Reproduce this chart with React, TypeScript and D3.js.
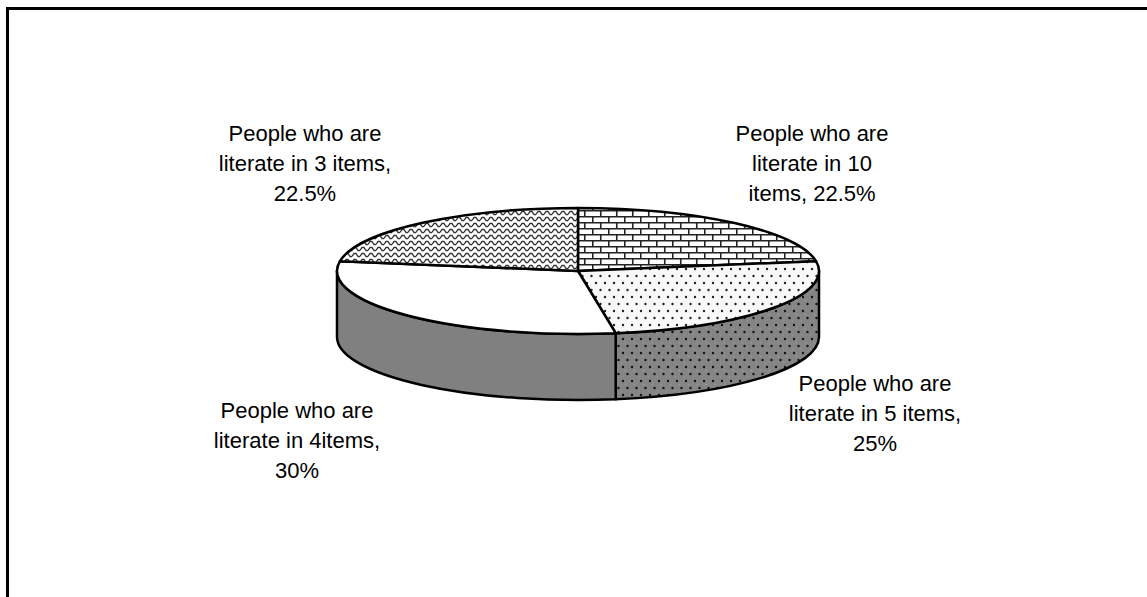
import React from "react";
import * as d3 from "d3";

const categories = [
  "People who are literate in 10 items",
  "People who are literate in 5 items",
  "People who are literate in 4items",
  "People who are literate in 3 items",
];
const values = [22.5, 25, 30, 22.5];
const labelLines = [
  ["People who are", "literate in 10", "items, 22.5%"],
  ["People who are", "literate in 5 items,", "25%"],
  ["People who are", "literate in 4items,", "30%"],
  ["People who are", "literate in 3 items,", "22.5%"],
];
const labelPos = [
  [812, 141],
  [875, 391],
  [297, 418],
  [305, 141],
];
const topFills = ["url(#bricks)", "url(#dotsTop)", "#ffffff", "url(#wave)"];
const sideFills = ["url(#bricksSide)", "url(#dotsSide)", "#808080", "url(#waveSide)"];

const W = 1147;
const H = 597;
const cx = 578;
const cy = 271;
const rx = 241;
const ry = 63;
const depth = 66;

function pt(a: number, dy = 0): [number, number] {
  return [cx + rx * Math.sin(a), cy - ry * Math.cos(a) + dy];
}

export default function App() {
  const pie = d3.pie<number>().sort(null).value((d) => d);
  const arcs = pie(values);

  const topPath = (a0: number, a1: number) => {
    const [x0, y0] = pt(a0);
    const [x1, y1] = pt(a1);
    const large = a1 - a0 > Math.PI ? 1 : 0;
    return `M${cx},${cy}L${x0},${y0}A${rx},${ry} 0 ${large} 1 ${x1},${y1}Z`;
  };
  const sidePath = (a0: number, a1: number) => {
    const s = Math.max(a0, Math.PI / 2);
    const e = Math.min(a1, (3 * Math.PI) / 2);
    if (e <= s) return null;
    const [x0, y0] = pt(s);
    const [x1, y1] = pt(e);
    const [x2, y2] = pt(e, depth);
    const [x3, y3] = pt(s, depth);
    return `M${x0},${y0}A${rx},${ry} 0 0 1 ${x1},${y1}L${x2},${y2}A${rx},${ry} 0 0 0 ${x3},${y3}Z`;
  };

  return (
    <svg
      width={W}
      height={H}
      style={{ position: "absolute", left: 0, top: 0, display: "block" }}
      fontFamily="'Liberation Sans', Arial, sans-serif"
    >
      <defs>
        <pattern id="bricks" width={16} height={12} patternUnits="userSpaceOnUse">
          <rect width={16} height={12} fill="#fff" />
          <path d="M0,0.75H16M0,6.75H16M0.75,0V6.75M8.75,6.75V12" stroke="#222" strokeWidth={1.6} fill="none" />
        </pattern>
        <pattern id="bricksSide" width={16} height={12} patternUnits="userSpaceOnUse">
          <rect width={16} height={12} fill="#808080" />
          <path d="M0,0.75H16M0,6.75H16M0.75,0V6.75M8.75,6.75V12" stroke="#222" strokeWidth={1.6} fill="none" />
        </pattern>
        <pattern id="wave" width={8} height={6} patternUnits="userSpaceOnUse">
          <rect width={8} height={6} fill="#fff" />
          <path d="M0,4.5L2,1.5L4,1.5L6,4.5L8,4.5" stroke="#333" strokeWidth={1.3} fill="none" />
        </pattern>
        <pattern id="waveSide" width={8} height={6} patternUnits="userSpaceOnUse">
          <rect width={8} height={6} fill="#808080" />
          <path d="M0,4.5L2,1.5L4,1.5L6,4.5L8,4.5" stroke="#222" strokeWidth={1.3} fill="none" />
        </pattern>
        <pattern id="dotsTop" width={9} height={14} patternUnits="userSpaceOnUse">
          <rect width={9} height={14} fill="#f8f8f8" />
          <circle cx={2} cy={3} r={1.2} fill="#222" />
          <circle cx={6.5} cy={10} r={1.2} fill="#222" />
        </pattern>
        <pattern id="dotsSide" width={9} height={14} patternUnits="userSpaceOnUse">
          <rect width={9} height={14} fill="#858585" />
          <circle cx={2} cy={3} r={1.2} fill="#111" />
          <circle cx={6.5} cy={10} r={1.2} fill="#111" />
          <circle cx={4.5} cy={6.5} r={0.8} fill="#a0a0a0" />
          <circle cx={0} cy={13} r={0.8} fill="#a0a0a0" />
        </pattern>
      </defs>
      <rect x={7.5} y={8.5} width={1200} height={700} fill="#fff" stroke="#000" strokeWidth={3} />

      {arcs.map((a, i) => {
        const p = sidePath(a.startAngle, a.endAngle);
        return p ? (
          <path key={"s" + i} d={p} fill={sideFills[i]} stroke="#000" strokeWidth={2.5} strokeLinejoin="round" />
        ) : null;
      })}
      {arcs.map((a, i) => (
        <path
          key={"t" + i}
          d={topPath(a.startAngle, a.endAngle)}
          fill={topFills[i]}
          stroke="#000"
          strokeWidth={2.5}
          strokeLinejoin="round"
        />
      ))}

      {arcs.map((a, i) => (
        <text key={"l" + i} x={labelPos[i][0]} y={labelPos[i][1]} fontSize={22} textAnchor="middle" fill="#000">
          {labelLines[i].map((ln, j) => (
            <tspan key={j} x={labelPos[i][0]} dy={j === 0 ? 0 : 30}>
              {ln}
            </tspan>
          ))}
          <title>{categories[i]}</title>
        </text>
      ))}
    </svg>
  );
}
